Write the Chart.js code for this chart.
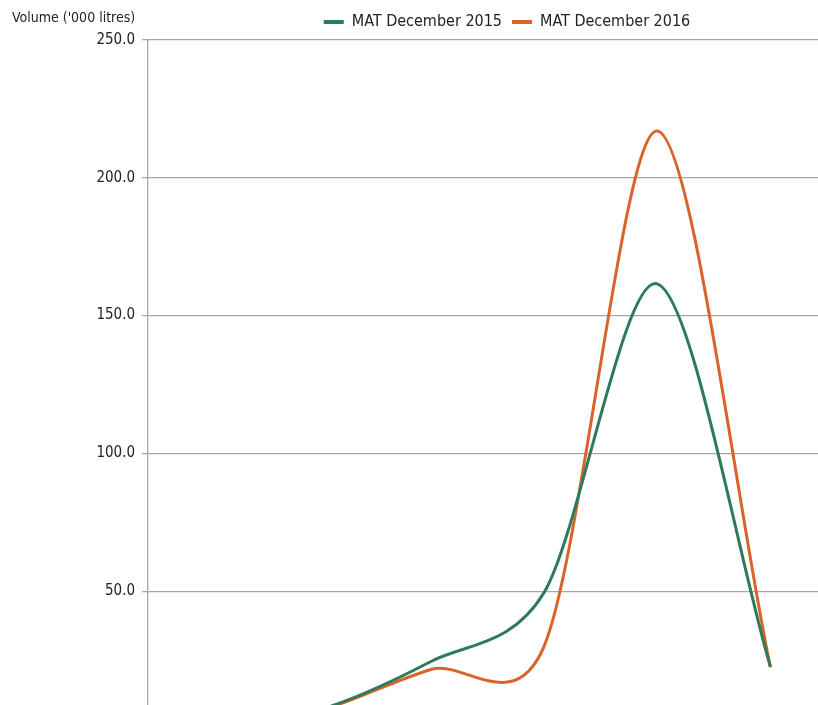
<!DOCTYPE html>
<html>
<head>
<meta charset="utf-8">
<script src="https://cdn.jsdelivr.net/npm/chart.js@4"></script>
<style>
  html, body { margin: 0; padding: 0; background: #ffffff; overflow: hidden; width: 818px; height: 705px; }
  #wrap { position: absolute; left: 0; top: 0; width: 830px; height: 745px; }
</style>
</head>
<body>
<div id="wrap"><canvas id="c"></canvas></div>
<script>
// ---- data ----
const categories = ["1", "2", "3", "4", "5", "6"];
const mat2015 = [1.0, 6.8, 24.5, 49.5, 161.5, 22.6];
const mat2016 = [1.0, 6.5, 21.6, 30.0, 217.0, 22.4];
const seriesNames = ["MAT December 2015", "MAT December 2016"];
const axisTitle = "Volume ('000 litres)";
const yTicks = [0, 50, 100, 150, 200, 250];

const FONT = "'Liberation Sans Narrow', 'DejaVu Sans Condensed', 'Arial Narrow', sans-serif";
const GREEN = '#2e7b5c';
const ORANGE = '#d9632a';

const titlePlugin = {
  id: 'axisTitle',
  afterDraw(chart) {
    const ctx = chart.ctx;
    ctx.save();
    ctx.font = "14px " + FONT;
    ctx.fillStyle = '#222222';
    ctx.textAlign = 'left';
    ctx.textBaseline = 'middle';
    ctx.fillText(axisTitle, 12, 18);
    ctx.restore();
  }
};

// centre the legend over the same point as in the reference
const legendShift = {
  id: 'legendShift',
  afterLayout(chart) {
    const lg = chart.legend;
    if (lg) {
      const d = 507 - (lg.left + lg.right) / 2;
      lg.left += d; lg.right += d;
    }
  }
};

// Spreadsheet-style smoothing: distance-weighted cardinal spline computed from the
// library's own point positions (vertical distances weighted by YW)
const TENSION = 0.3, YW = 0.17;
const smoothPlugin = {
  id: 'smoothLines',
  beforeDatasetsDraw(chart) {
    chart.data.datasets.forEach((ds, i) => {
      const meta = chart.getDatasetMeta(i);
      if (meta.dataset && meta.dataset.updateControlPoints) {
        meta.dataset.updateControlPoints(chart.chartArea, 'x');
      }
      const pts = meta.data;
      for (let k = 0; k < pts.length; k++) {
        const p = pts[k];
        const prev = pts[k - 1] || p;
        const next = pts[k + 1] || p;
        const d01 = Math.hypot(p.x - prev.x, (p.y - prev.y) * YW);
        const d12 = Math.hypot(next.x - p.x, (next.y - p.y) * YW);
        const sum = d01 + d12 || 1;
        const fa = TENSION * d01 / sum, fb = TENSION * d12 / sum;
        p.cp1x = p.x - fa * (next.x - prev.x); p.cp1y = p.y - fa * (next.y - prev.y);
        p.cp2x = p.x + fb * (next.x - prev.x); p.cp2y = p.y + fb * (next.y - prev.y);
      }
      if (meta.dataset) { meta.dataset._pointsUpdated = true; meta.dataset._path = undefined; }
    });
  }
};

new Chart(document.getElementById('c'), {
  type: 'line',
  data: {
    labels: categories,
    datasets: [
      { label: seriesNames[0], data: mat2015, borderColor: GREEN, backgroundColor: GREEN,
        borderWidth: 3, pointRadius: 0, tension: 0.4, fill: false },
      { label: seriesNames[1], data: mat2016, borderColor: ORANGE, backgroundColor: ORANGE,
        borderWidth: 3, pointRadius: 0, tension: 0.4, fill: false }
    ]
  },
  options: {
    responsive: true,
    maintainAspectRatio: false,
    animation: false,
    layout: { padding: { top: 4, right: 3, left: 0, bottom: 0 } },
    plugins: {
      legend: {
        position: 'top',
        labels: {
          font: { family: FONT, size: 16 },
          color: '#222222',
          boxWidth: 20,
          boxHeight: 4,
          padding: 10,
          generateLabels(chart) {
            return chart.data.datasets.map((ds, i) => ({
              text: ds.label, fillStyle: ds.borderColor, strokeStyle: ds.borderColor,
              lineWidth: 0, hidden: false, datasetIndex: i, fontColor: '#222222'
            }));
          }
        }
      },
      tooltip: { enabled: false }
    },
    scales: {
      x: {
        offset: true,
        grid: { display: false, drawTicks: false },
        border: { display: false },
        ticks: { display: false }
      },
      y: {
        min: yTicks[0],
        max: yTicks[yTicks.length - 1],
        afterFit(scale) { scale.width = 148; },
        afterBuildTicks(scale) { scale.ticks = yTicks.map(v => ({ value: v })); },
        grid: { color: '#a6a6a6', lineWidth: 1.3, tickLength: 6 },
        border: { display: true, color: '#a6a6a6', width: 1.3 },
        ticks: {
          padding: 7,
          font: { family: FONT, size: 15 },
          color: '#222222',
          callback: v => Number(v).toFixed(1)
        }
      }
    }
  },
  plugins: [titlePlugin, legendShift, smoothPlugin]
});
</script>
</body>
</html>
